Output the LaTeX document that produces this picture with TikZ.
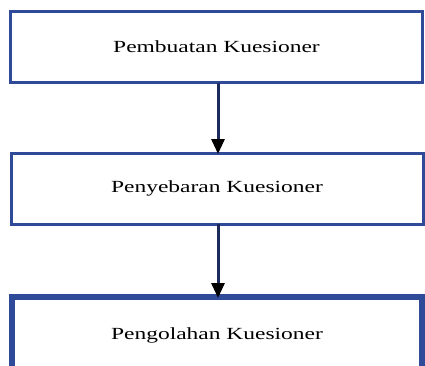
\documentclass[tikz,border=0pt]{standalone}
\usepackage{fontspec}
\setmainfont{Liberation Serif}
\usetikzlibrary{arrows.meta}
\definecolor{boxblue}{HTML}{2E4A98}
\definecolor{shaft}{HTML}{1C2A5E}
\tikzset{
  stepbox/.style={draw=boxblue, line width=3pt, fill=white, rectangle,
    minimum width=412pt, minimum height=71pt, inner sep=0pt, outer sep=0pt,
    font=\fontsize{17pt}{20pt}\selectfont},
  lastbox/.style={stepbox, line width=6pt, minimum width=410pt, minimum height=76pt},
  flow/.style={draw=shaft, line width=3pt,
    -{Triangle[width=13pt,length=15pt,fill=black,color=black]}, shorten >=-1pt}
}
\newcommand{\wide}[1]{\scalebox{1.38}[1]{#1}}
\begin{document}
\begin{tikzpicture}[x=1pt,y=1pt]
\useasboundingbox (0,0) rectangle (425,365);
\clip (0,0) rectangle (425,365);
\node[stepbox] (a) at (216.5,318) {\wide{Pembuatan Kuesioner}};
\node[stepbox] (b) at (217,176.5) {\wide{Penyebaran Kuesioner}};
\node[lastbox] (c) at (217,30) {\wide{Pengolahan Kuesioner}};
\draw[flow] (a.south -| 218,0) -- (b.north -| 218,0);
\draw[flow] (b.south -| 218,0) -- (c.north -| 218,0);
\end{tikzpicture}
\end{document}
